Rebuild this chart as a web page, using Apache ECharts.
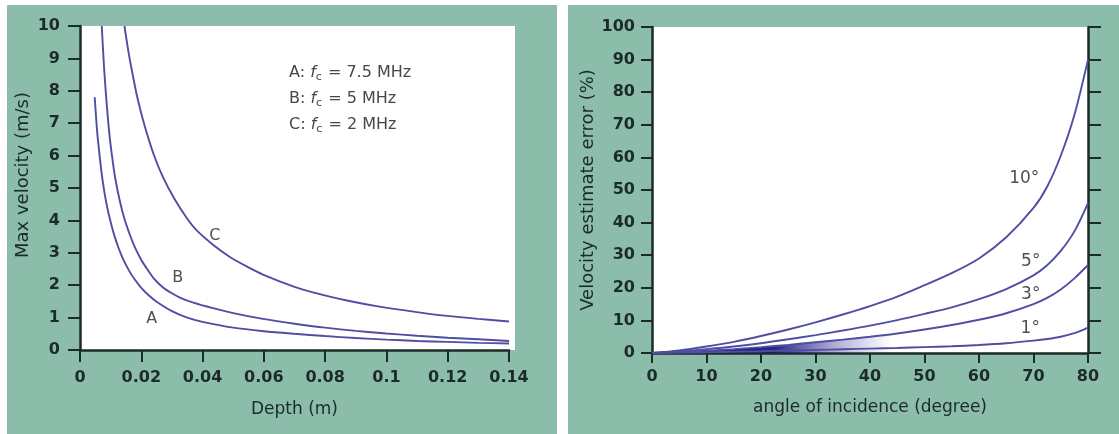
<!DOCTYPE html>
<html><head><meta charset="utf-8">
<script src="https://cdn.jsdelivr.net/npm/echarts/dist/echarts.min.js"></script>
<style>html,body{margin:0;padding:0;background:#fff}#c{width:1119px;height:434px}</style>
</head><body><div id="c"></div>
<script>
// ---- left chart: max velocity vs depth ----
const depthA = [0.0048,0.0055,0.006,0.007,0.008,0.009,0.01,0.011,0.0125,0.014,0.016,0.018,0.02,0.0225,0.025,0.03,0.035,0.04,0.05,0.06,0.07,0.08,0.09,0.1,0.11,0.12,0.13,0.14];
const velA   = [7.8,6.85,6.35,5.5,4.85,4.35,3.95,3.6,3.17,2.82,2.45,2.16,1.92,1.68,1.49,1.2,1.0,0.87,0.69,0.58,0.5,0.43,0.37,0.32,0.28,0.25,0.22,0.2];
const depthB = [0.0071,0.0078,0.0085,0.0095,0.0105,0.0115,0.013,0.0145,0.0163,0.018,0.02,0.0217,0.024,0.0271,0.03,0.0326,0.037,0.0434,0.05,0.0597,0.07,0.08,0.09,0.1,0.11,0.12,0.13,0.14];
const velB   = [10,8.8,7.85,6.75,5.95,5.3,4.6,4.05,3.55,3.15,2.78,2.53,2.22,1.93,1.75,1.62,1.46,1.29,1.14,0.96,0.81,0.69,0.59,0.51,0.44,0.38,0.33,0.28];
const depthC = [0.0145,0.016,0.0175,0.0187,0.021,0.024,0.027,0.0309,0.035,0.038,0.0434,0.0488,0.055,0.0597,0.07,0.076,0.0875,0.0977,0.11,0.119,0.13,0.14];
const velC   = [10,9.1,8.35,7.8,6.95,6.05,5.35,4.65,4.05,3.7,3.25,2.88,2.55,2.33,1.95,1.78,1.52,1.34,1.17,1.06,0.96,0.88];
const curveNamesLeft = ['A', 'B', 'C'];
const curveLabelDepth = [0.0234, 0.0319, 0.044];
const curveLabelVel   = [0.95, 2.23, 3.53];
const legendLines = [['A', '7.5'], ['B', '5'], ['C', '2']];

// ---- right chart: velocity estimate error vs angle ----
const angles = [0,5,10,15,20,25,30,35,40,45,50,55,60,65,70,72.5,75,77.5,80];
const err10 = [0,0.8,2,3.4,5.2,7.2,9.4,11.8,14.4,17.3,20.8,24.5,29,35.5,44.5,51,60.5,73,90];
const err5  = [0,0.5,1.2,2,3,4.2,5.5,6.9,8.4,10.1,12,14,16.5,19.6,23.8,26.9,31.3,37.3,46];
const err3  = [0,0.3,0.7,1.2,1.8,2.5,3.3,4.1,5,6,7.2,8.6,10.2,12.2,15,16.9,19.5,22.9,27];
const err1  = [0,0.1,0.2,0.4,0.55,0.75,0.95,1.15,1.35,1.55,1.8,2.05,2.45,3,3.8,4.3,5,6.1,7.8];
const errNames = ['10°', '5°', '3°', '1°'];
const errLabelAngle = [68.3, 69.5, 69.5, 69.4];
const errLabelValue = [53.4, 28, 17.8, 7.6];

const FONT = 'DejaVu Sans';
const TEAL = '#8cbdab';
const INK = '#1b2b27';
const LINE = '#4f4ea3';

const zip = (xs, ys) => xs.map((x, i) => [x, ys[i]]);

function lineSeries(xi, yi, data, extra) {
  return Object.assign({
    type: 'line', xAxisIndex: xi, yAxisIndex: yi, data: data,
    showSymbol: false, smooth: 0.3, clip: true,
    lineStyle: { color: LINE, width: 1.9 }, z: 3, silent: true
  }, extra || {});
}

function labelSeries(xi, yi, xs, ys, names, fs) {
  return {
    type: 'scatter', xAxisIndex: xi, yAxisIndex: yi, symbolSize: 1,
    itemStyle: { color: 'rgba(0,0,0,0)' }, silent: true, z: 4,
    data: xs.map((x, i) => [x, ys[i], names[i]]),
    label: { show: true, position: 'inside', formatter: p => p.data[2],
      color: '#222', fontSize: fs, fontFamily: FONT }
  };
}

const axisLabelStyle = { color: INK, fontSize: 16, fontFamily: FONT, fontWeight: 'bold' };
const nameStyle = { color: INK, fontSize: 16, fontFamily: FONT };

const legendGraphics = legendLines.map((l, i) => ({
  type: 'text', left: 289, top: 65 + i * 26, z: 10, silent: true,
  style: {
    text: '{n|' + l[0] + ': }{f|f}{s|c}{n| = ' + l[1] + ' MHz}',
    rich: {
      n: { fontSize: 16, fontFamily: FONT, fill: '#474747', color: '#474747' },
      f: { fontSize: 16, fontFamily: FONT, fontStyle: 'italic', fill: '#474747', color: '#474747' },
      s: { fontSize: 11, fontFamily: FONT, fill: '#474747', color: '#474747', padding: [9, 1, 0, 0] }
    }
  }
}));

const option = {
  animation: false,
  backgroundColor: '#fff',
  graphic: [
    { type: 'rect', silent: true, z: -100, shape: { x: 7, y: 5, width: 550, height: 429 }, style: { fill: TEAL } },
    { type: 'rect', silent: true, z: -100, shape: { x: 568, y: 5, width: 551, height: 429 }, style: { fill: TEAL } },
    { type: 'rect', silent: true, z: -90, shape: { x: 80, y: 26, width: 435, height: 324 }, style: { fill: '#fff' } },
    { type: 'rect', silent: true, z: -90, shape: { x: 652, y: 27, width: 436, height: 326 }, style: { fill: '#fff' } }
  ].concat(legendGraphics),
  grid: [
    { left: 80, top: 26, width: 429, height: 324 },
    { left: 652, top: 27, width: 436, height: 326 }
  ],
  xAxis: [
    { gridIndex: 0, type: 'value', min: 0, max: 0.14, interval: 0.02,
      axisLine: { show: true, lineStyle: { color: INK, width: 2.5 } },
      axisTick: { show: true, length: 12, lineStyle: { color: INK, width: 2 } },
      axisLabel: Object.assign({ margin: 20, formatter: v => String(+v.toFixed(2)) }, axisLabelStyle),
      splitLine: { show: false },
      name: 'Depth (m)', nameLocation: 'middle', nameGap: 51, nameTextStyle: Object.assign({}, nameStyle, { fontSize: 17 }) },
    { gridIndex: 1, type: 'value', min: 0, max: 80, interval: 10,
      axisLine: { show: true, lineStyle: { color: INK, width: 2.5 } },
      axisTick: { show: true, length: 10, lineStyle: { color: INK, width: 2 } },
      axisLabel: Object.assign({ margin: 16 }, axisLabelStyle),
      splitLine: { show: false },
      name: 'angle of incidence (degree)', nameLocation: 'middle', nameGap: 46, nameTextStyle: Object.assign({}, nameStyle, { fontSize: 17 }) }
  ],
  yAxis: [
    { gridIndex: 0, type: 'value', min: 0, max: 10, interval: 1,
      axisLine: { show: true, lineStyle: { color: INK, width: 2.5 } },
      axisTick: { show: true, length: 12, lineStyle: { color: INK, width: 2 } },
      axisLabel: Object.assign({ margin: 20 }, axisLabelStyle),
      splitLine: { show: false },
      name: 'Max velocity (m/s)', nameLocation: 'middle', nameGap: 48,
      nameTextStyle: Object.assign({}, nameStyle, { fontSize: 18, padding: [0, 0, 0, 26] }) },
    { gridIndex: 1, type: 'value', min: 0, max: 100, interval: 10, position: 'left',
      axisLine: { show: true, lineStyle: { color: INK, width: 2.5 } },
      axisTick: { show: true, length: 11, lineStyle: { color: INK, width: 2 } },
      axisLabel: Object.assign({ margin: 17 }, axisLabelStyle),
      splitLine: { show: false },
      name: 'Velocity estimate error (%)', nameLocation: 'middle', nameGap: 54,
      nameTextStyle: Object.assign({}, nameStyle, { fontSize: 18 }) },
    { gridIndex: 1, type: 'value', min: 0, max: 100, interval: 10, position: 'right',
      axisLine: { show: true, lineStyle: { color: INK, width: 2.5 } },
      axisTick: { show: true, length: 13, lineStyle: { color: INK, width: 2 } },
      axisLabel: { show: false },
      splitLine: { show: false } }
  ],
  series: [
    lineSeries(0, 0, zip(depthA, velA)),
    lineSeries(0, 0, zip(depthB, velB)),
    lineSeries(0, 0, zip(depthC, velC)),
    labelSeries(0, 0, curveLabelDepth, curveLabelVel, curveNamesLeft, 16),
    lineSeries(1, 1, zip(angles, err10)),
    lineSeries(1, 1, zip(angles, err5)),
    lineSeries(1, 1, zip(angles, err3), {
      areaStyle: { opacity: 1, color: { type: 'linear', x: 0, y: 0, x2: 1, y2: 0, colorStops: [
        { offset: 0, color: 'rgba(15,10,90,1)' },
        { offset: 0.28, color: 'rgba(30,24,128,0.95)' },
        { offset: 0.42, color: 'rgba(60,50,150,0.4)' },
        { offset: 0.55, color: 'rgba(80,70,170,0)' }] } } }),
    lineSeries(1, 1, zip(angles, err1)),
    labelSeries(1, 1, errLabelAngle, errLabelValue, errNames, 17)
  ]
};
const chart = echarts.init(document.getElementById('c'), null, { renderer: 'canvas' });
chart.setOption(option);
</script></body></html>
